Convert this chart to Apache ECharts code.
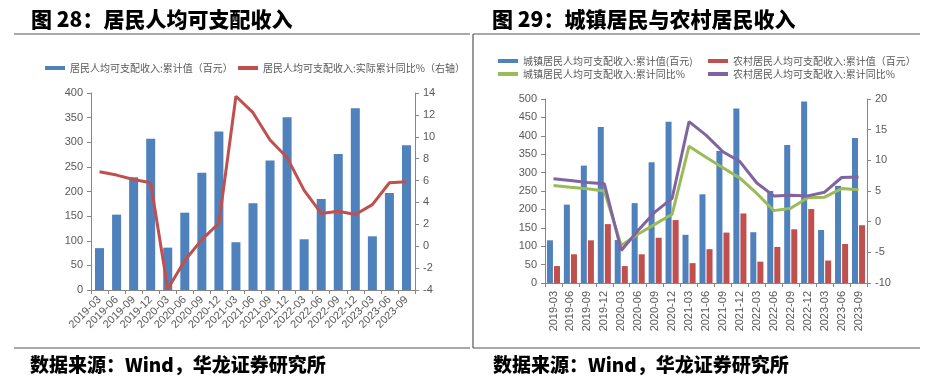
<!DOCTYPE html>
<html><head><meta charset="utf-8">
<script src="https://cdn.jsdelivr.net/npm/echarts@6/dist/echarts.min.js"></script>
<style>html,body{margin:0;padding:0;background:#fff}#c{width:935px;height:382px}</style>
</head><body><div id="c"></div>
<script>
const categories = ['2019-03','2019-06','2019-09','2019-12','2020-03','2020-06','2020-09','2020-12','2021-03','2021-06','2021-09','2021-12','2022-03','2022-06','2022-09','2022-12','2023-03','2023-06','2023-09'];
// Figure 28
const incomeTotal = [85, 153, 229, 307, 86, 157, 238, 322, 97, 176, 263, 351, 103, 185, 276, 369, 109, 197, 294];
const incomeYoY = [6.8, 6.5, 6.1, 5.8, -3.9, -1.3, 0.6, 2.1, 13.7, 12.2, 9.7, 8.1, 5.1, 3.0, 3.2, 2.9, 3.8, 5.8, 5.9];
// Figure 29
const urbanTotal = [116, 213, 319, 424, 117, 217, 328, 438, 131, 241, 359, 474, 138, 250, 375, 493, 144, 264, 394];
const ruralTotal = [46, 78, 116, 160, 46, 78, 123, 171, 54, 92, 137, 189, 58, 98, 146, 201, 61, 106, 157];
const urbanYoY = [5.9, 5.6, 5.35, 5.0, -3.9, -2.0, -0.4, 1.2, 12.3, 10.5, 8.8, 7.1, 4.6, 1.8, 2.2, 3.9, 4.0, 5.4, 5.2];
const ruralYoY = [7.0, 6.7, 6.4, 6.2, -4.7, -1.4, 1.6, 3.8, 16.3, 14.1, 11.4, 9.8, 6.3, 4.2, 4.3, 4.2, 4.8, 7.2, 7.3];

const names = {
  a: '居民人均可支配收入:累计值（百元）',
  b: '居民人均可支配收入:实际累计同比%（右轴）',
  c: '城镇居民人均可支配收入:累计值(百元)',
  d: '农村居民人均可支配收入:累计值（百元）',
  e: '城镇居民人均可支配收入:累计同比%',
  f: '农村居民人均可支配收入:累计同比%'
};
const BLUE = '#4f81bd', RED = '#c0504d', GREEN = '#9bbb59', PURPLE = '#8064a2';
const AX = '#868686', TXT = '#595959';
const lf = 'Liberation Sans, Arial, sans-serif';
const cjk = 'Noto Sans CJK SC';

function yAx(gi, min, max, interval, pos) {
  return {
    type: 'value', gridIndex: gi, min, max, interval, position: pos,
    axisLine: {show: true, lineStyle: {color: AX, width: 1}},
    axisTick: {show: true, length: 4, lineStyle: {color: AX}},
    splitLine: {show: false},
    axisLabel: {color: TXT, fontSize: 11, fontFamily: lf, margin: 8}
  };
}
function xAx(gi, rot, margin) {
  return {
    type: 'category', gridIndex: gi, data: categories,
    axisLine: {lineStyle: {color: AX}},
    axisTick: {show: true, length: 4, alignWithLabel: false, lineStyle: {color: AX}},
    axisLabel: {color: TXT, fontSize: 11, fontFamily: lf, rotate: rot, interval: 0, margin}
  };
}
function leg(name, left, top, color) {
  return {
    left, top, orient: 'horizontal', itemWidth: 20, itemHeight: 4, icon: 'rect',
    data: [{name, icon: 'rect', itemStyle: {color}, lineStyle: {color, width: 0}}],
    textStyle: {color: TXT, fontSize: 10, fontFamily: cjk}, itemGap: 4, selectedMode: false
  };
}

const chart = echarts.init(document.getElementById('c'), null, {renderer: 'canvas'});
chart.setOption({
  animation: false,
  backgroundColor: '#fff',
  title: [
    {text: '图 28：居民人均可支配收入', left: 26, top: 4, textStyle: {fontFamily: cjk, fontSize: 21, fontWeight: 900, color: '#000'}},
    {text: '图 29：城镇居民与农村居民收入', left: 487, top: 4, textStyle: {fontFamily: cjk, fontSize: 21, fontWeight: 900, color: '#000'}},
    {text: '数据来源：Wind，华龙证券研究所', left: 25, top: 350, textStyle: {fontFamily: cjk, fontSize: 19, fontWeight: 900, color: '#000'}},
    {text: '数据来源：Wind，华龙证券研究所', left: 488, top: 350, textStyle: {fontFamily: cjk, fontSize: 19, fontWeight: 900, color: '#000'}}
  ],
  legend: [
    leg(names.a, 40, 58, BLUE),
    leg(names.b, 233, 58, RED),
    leg(names.c, 493, 51, BLUE),
    leg(names.d, 703, 51, RED),
    leg(names.e, 493, 64, GREEN),
    leg(names.f, 703, 64, PURPLE)
  ],
  grid: [
    {left: 91, top: 93, width: 324, height: 197},
    {left: 545, top: 99, width: 322, height: 184}
  ],
  xAxis: [xAx(0, 45, 8), xAx(1, 90, 8)],
  yAxis: [
    yAx(0, 0, 400, 50, 'left'),
    yAx(0, -4, 14, 2, 'right'),
    yAx(1, 0, 500, 50, 'left'),
    yAx(1, -10, 20, 5, 'right')
  ],
  series: [
    {name: names.a, type: 'bar', xAxisIndex: 0, yAxisIndex: 0, data: incomeTotal, barWidth: 9, itemStyle: {color: BLUE}},
    {name: names.b, type: 'line', xAxisIndex: 0, yAxisIndex: 1, data: incomeYoY, symbol: 'none', lineStyle: {color: RED, width: 3}, itemStyle: {color: RED}},
    {name: names.c, type: 'bar', xAxisIndex: 1, yAxisIndex: 2, data: urbanTotal, barWidth: 6, barGap: '18%', itemStyle: {color: BLUE}},
    {name: names.d, type: 'bar', xAxisIndex: 1, yAxisIndex: 2, data: ruralTotal, barWidth: 6, barGap: '18%', itemStyle: {color: RED}},
    {name: names.e, type: 'line', xAxisIndex: 1, yAxisIndex: 3, data: urbanYoY, symbol: 'none', lineStyle: {color: GREEN, width: 3}, itemStyle: {color: GREEN}},
    {name: names.f, type: 'line', xAxisIndex: 1, yAxisIndex: 3, data: ruralYoY, symbol: 'none', lineStyle: {color: PURPLE, width: 3}, itemStyle: {color: PURPLE}}
  ],
  graphic: [
    {type: 'line', shape: {x1: 14, y1: 34, x2: 470, y2: 34}, style: {stroke: '#555', lineWidth: 1.2}},
    {type: 'line', shape: {x1: 473, y1: 34, x2: 920, y2: 34}, style: {stroke: '#555', lineWidth: 1.2}},
    {type: 'line', shape: {x1: 473, y1: 34, x2: 473, y2: 348}, style: {stroke: '#555', lineWidth: 1.2}},
    {type: 'line', shape: {x1: 14, y1: 348, x2: 470, y2: 348}, style: {stroke: '#555', lineWidth: 1.2}},
    {type: 'line', shape: {x1: 473, y1: 348, x2: 920, y2: 348}, style: {stroke: '#555', lineWidth: 1.2}}
  ]
});
</script></body></html>
